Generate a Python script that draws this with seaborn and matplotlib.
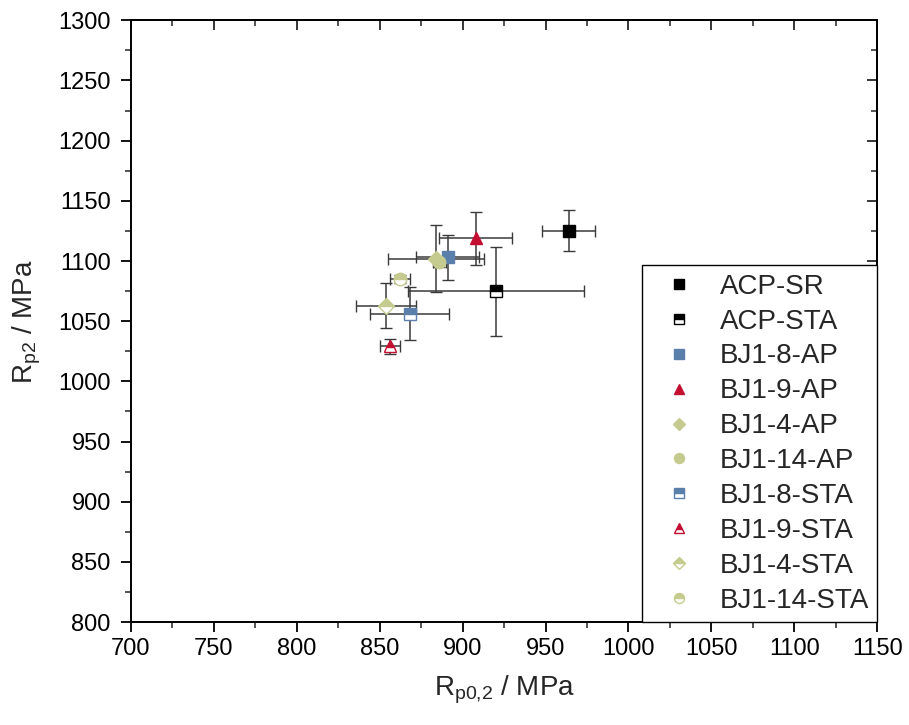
import numpy as np
import matplotlib
matplotlib.use('Agg')
import matplotlib.pyplot as plt
import seaborn as sns

# ===== DONNEES =====
labels = ['ACP-SR', 'ACP-STA', 'BJ1-8-AP', 'BJ1-9-AP', 'BJ1-4-AP', 'BJ1-14-AP',
          'BJ1-8-STA', 'BJ1-9-STA', 'BJ1-4-STA', 'BJ1-14-STA']
rp02 = [964, 920, 891, 908, 884, 886, 868, 856, 854, 862]
rp02_err = [16, 53, 19, 22, 29, 4, 24, 6, 18, 6]
rp2 = [1125, 1075, 1103, 1119, 1102, 1099, 1056, 1029, 1063, 1085]
rp2_err = [17, 37, 19, 22, 28, 4, 22, 6, 19, 3]

colors = ['black', 'black', '#5a7fab', '#c40f31', '#c5cb8e', '#c5cb8e',
          '#5a7fab', '#c40f31', '#c5cb8e', '#c5cb8e']
markers = ['s', 's', 's', '^', 'D', 'o', 's', '^', 'D', 'o']
fills = ['full', 'top', 'full', 'full', 'full', 'full', 'top', 'top', 'top', 'top']

# ===== STYLE =====
sns.set_style('ticks')
plt.rcParams['font.family'] = ['Liberation Sans', 'DejaVu Sans']
plt.rcParams['mathtext.fontset'] = 'custom'
plt.rcParams['mathtext.rm'] = 'Liberation Sans'
plt.rcParams['mathtext.it'] = 'Liberation Sans'

fig = plt.figure(figsize=(9.09, 7.25), dpi=100)
ax = fig.add_axes([0.144, 0.142, 0.821, 0.830])

for i in range(len(labels)):
    ax.errorbar(rp02[i], rp2[i], xerr=rp02_err[i], yerr=rp2_err[i],
                fmt=markers[i], color=colors[i], markersize=9 if markers[i] != 'D' else 8,
                fillstyle=fills[i], markerfacecoloralt='white',
                markeredgecolor=colors[i], markeredgewidth=1.0,
                ecolor='#3a3a3a', elinewidth=1.1, capsize=4, capthick=1.1,
                label=labels[i], zorder=3)

ax.set_xlim(700, 1150)
ax.set_ylim(800, 1300)
ax.set_xticks(np.arange(700, 1151, 50))
ax.set_yticks(np.arange(800, 1301, 50))
ax.set_xticks(np.arange(725, 1150, 50), minor=True)
ax.set_yticks(np.arange(825, 1300, 50), minor=True)

for side in ['top', 'right', 'bottom', 'left']:
    ax.spines[side].set_visible(True)
    ax.spines[side].set_linewidth(1.4)
    ax.spines[side].set_color('black')

ax.tick_params(axis='both', which='major', direction='out', length=7.5, width=1.3,
               labelsize=17, colors='black')
ax.tick_params(axis='both', which='minor', direction='out', length=4, width=1.1)
ax.tick_params(axis='x', which='major', pad=4)
ax.tick_params(axis='y', which='major', pad=7)
ax.tick_params(top=False, right=False)

# ticks miroirs vers l'interieur
ax_top = ax.secondary_xaxis('top')
ax_top.set_xticks(np.arange(700, 1151, 50))
ax_top.set_xticks(np.arange(725, 1150, 50), minor=True)
ax_top.tick_params(which='major', direction='in', length=7.5, width=1.3, labeltop=False)
ax_top.tick_params(which='minor', direction='in', length=4, width=1.1)
ax_top.spines['top'].set_linewidth(1.4)
ax_right = ax.secondary_yaxis('right')
ax_right.set_yticks(np.arange(800, 1301, 50))
ax_right.set_yticks(np.arange(825, 1300, 50), minor=True)
ax_right.tick_params(which='major', direction='in', length=7.5, width=1.3, labelright=False)
ax_right.tick_params(which='minor', direction='in', length=4, width=1.1)
ax_right.spines['right'].set_linewidth(1.4)

ax.set_xlabel(r'R$_{\mathregular{p0{,}2}}$ / MPa', fontsize=20, labelpad=10)
ax.set_ylabel(r'R$_{\mathregular{p2}}$ / MPa', fontsize=20, labelpad=11)

handles, leg_labels = ax.get_legend_handles_labels()
handles = [h[0] for h in handles]
leg = ax.legend(handles, leg_labels, loc='lower right', bbox_to_anchor=(1.0, 0.0),
                borderaxespad=0, fontsize=20, frameon=True, fancybox=False,
                edgecolor='black', framealpha=1, labelspacing=0.32,
                handletextpad=0.4, markerscale=0.8, borderpad=0.3, handlelength=2.1)
leg.get_frame().set_linewidth(1.0)

plt.savefig('out.png', dpi=100)
